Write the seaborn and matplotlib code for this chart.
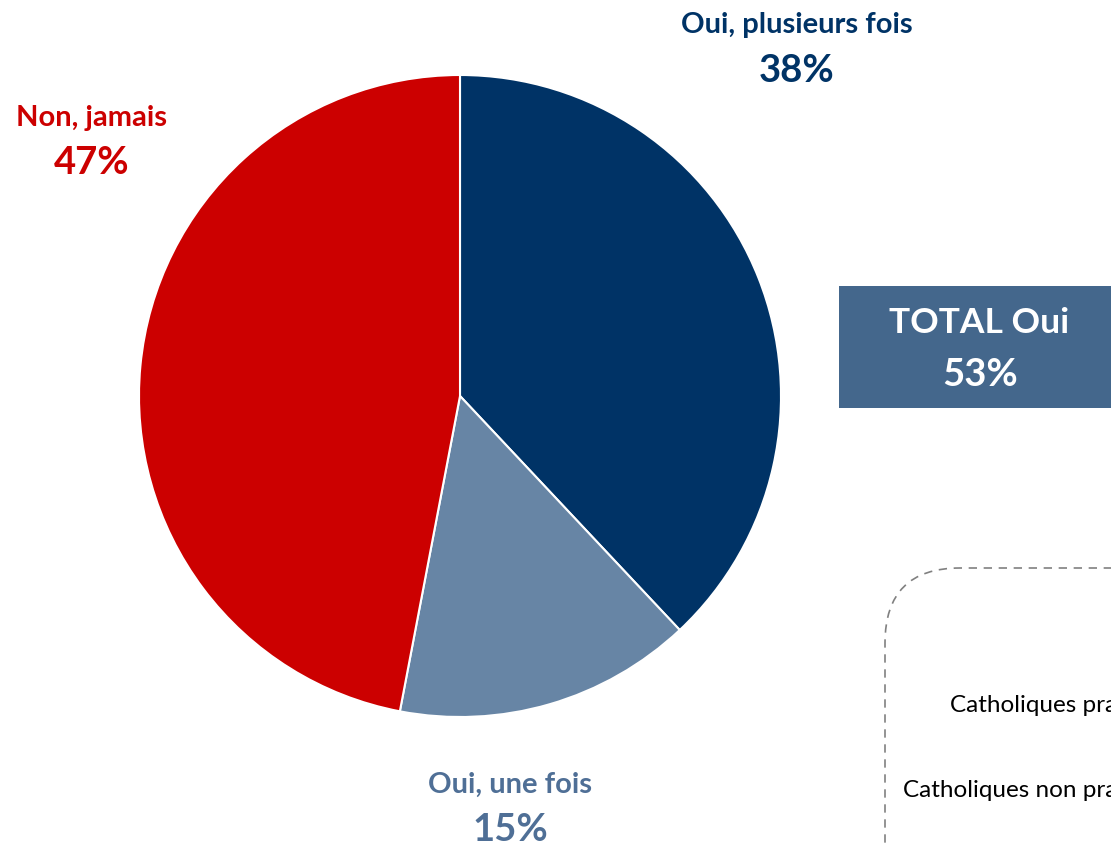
import matplotlib
matplotlib.use("Agg")
import matplotlib.pyplot as plt
import seaborn as sns
from matplotlib.patches import FancyBboxPatch, Rectangle

sns.set_theme(style="white")
plt.rcParams['font.family'] = ['Lato', 'DejaVu Sans']

categories = ["Oui, plusieurs fois", "Oui, une fois", "Non, jamais"]
values = [38, 15, 47]
colors = ["#003366", "#6785A5", "#CC0000"]
label_colors = ["#003366", "#4F6F96", "#CC0000"]
total_label = "TOTAL Oui"
total_value = 53
sub_labels = ["Catholiques pratiquants", "Catholiques non pratiquants"]

W, H = 1111, 847
fig = plt.figure(figsize=(W / 100, H / 100), dpi=100)

# Pie axes
cx, cy, r = 460, 847 - 396, 321
ax = fig.add_axes([(cx - r) / W, (cy - r) / H, 2 * r / W, 2 * r / H])
ax.pie(values, colors=colors, startangle=90, counterclock=False,
       wedgeprops=dict(edgecolor="white", linewidth=1.5))
ax.set_xlim(-1, 1)
ax.set_ylim(-1, 1)
ax.set_aspect("equal")
ax.axis("off")

# Overlay axes in pixel units
ov = fig.add_axes([0, 0, 1, 1], facecolor="none")
ov.set_xlim(0, W)
ov.set_ylim(0, H)
ov.axis("off")

label_pos = [(797, 25, 71), (510, 785, 830), (92, 118, 163)]
for cat, val, col, (x, y1, y2) in zip(categories, values, label_colors, label_pos):
    ov.text(x, H - y1, cat, ha="center", va="center", fontsize=21,
            fontweight="bold", color=col)
    ov.text(x, H - y2, f"{val}%", ha="center", va="center", fontsize=27.5,
            fontweight="bold", color=col)

# TOTAL box
ov.add_patch(Rectangle((839, H - 408), W - 839 + 5, 122, facecolor="#44678C",
                       edgecolor="none", clip_on=True))
ov.text(979, H - 323, total_label, ha="center", va="center", fontsize=25.5,
        fontweight="bold", color="white")
ov.text(980, H - 375, f"{total_value}%", ha="center", va="center", fontsize=27.5,
        fontweight="bold", color="white")

# Dashed rounded box
ov.add_patch(FancyBboxPatch((885, -300), 500, (H - 568) + 300,
                            boxstyle="round,pad=0,rounding_size=75",
                            facecolor="none", edgecolor="#808080",
                            linestyle=(0, (5, 4)), linewidth=1.2, clip_on=True))
ov.text(950, H - 705, sub_labels[0], ha="left", va="center", fontsize=17.5,
        color="black")
ov.text(903, H - 790, sub_labels[1], ha="left", va="center", fontsize=17.5,
        color="black")

fig.savefig("out.png", dpi=100)
